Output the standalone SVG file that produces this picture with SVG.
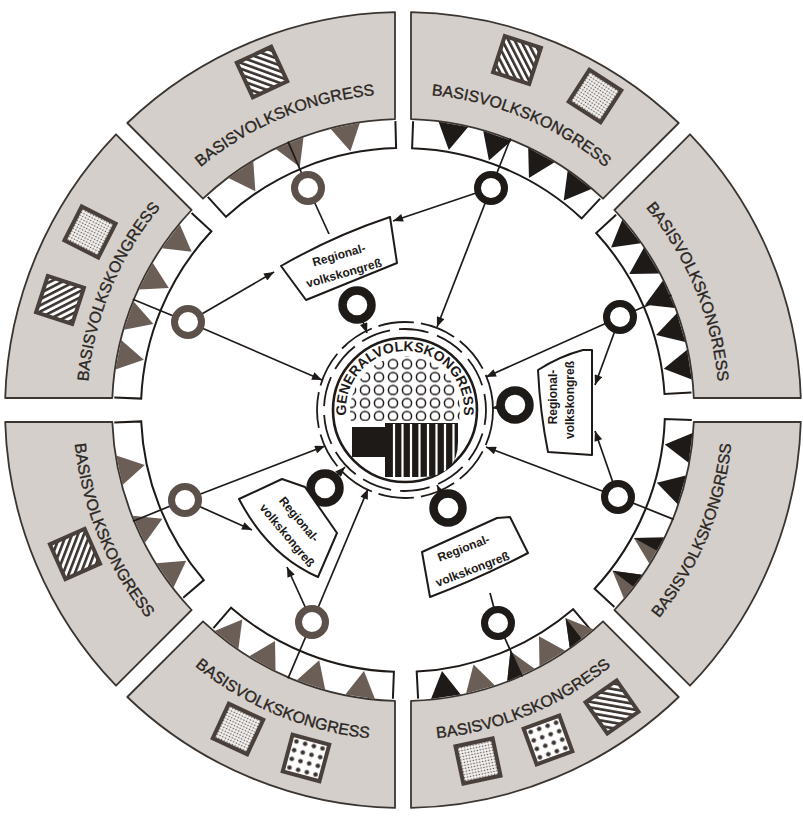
<svg xmlns="http://www.w3.org/2000/svg" width="803" height="819" viewBox="0 0 803 819">
<defs>
<style>
.sec{fill:#d4cfca;stroke:#3b3531;stroke-width:1.8;stroke-linejoin:round}
.bk{font-family:"Liberation Sans",Arial,sans-serif;font-size:16px;fill:#2b2623;stroke:#2b2623;stroke-width:0.35}
.band{fill:none;stroke:#1e1a18;stroke-width:2}
.tb{fill:#6b5e57}
.tk{fill:#1e1a18}
.tile{stroke:#4a403b;stroke-width:4}
.ln{stroke:#1e1a18;stroke-width:1.7;fill:none}
.ar{marker-end:url(#ah)}
.ringb{fill:#fff;stroke:#5b504a;stroke-width:7}
.ringk{fill:#fff;stroke:#1e1a18;stroke-width:7}
.ringi{fill:#fff;stroke:#1e1a18;stroke-width:8.5}
.box{fill:#fff;stroke:#1e1a18;stroke-width:2;stroke-linejoin:round}
.bt{font-family:"Liberation Sans",Arial,sans-serif;font-weight:bold;font-size:12px;fill:#1e1a18;text-anchor:middle}
</style>
<marker id="ah" viewBox="0 0 10 8" refX="10" refY="4" markerWidth="11" markerHeight="8" orient="auto" markerUnits="userSpaceOnUse"><path d="M0,0L10,4L0,8Z" fill="#1e1a18"/></marker>
<polygon id="tri" points="388,120 418,120 403,146"/>
<polygon id="triL" points="388,120 403,120 403,146"/>
<polygon id="triR" points="403,120 418,120 403,146"/>
<pattern id="hatchA" width="5.5" height="5.5" patternUnits="userSpaceOnUse" patternTransform="rotate(-45)"><rect width="5.5" height="5.5" fill="#fff"/><rect width="2.6" height="5.5" fill="#3a3330"/></pattern>
<pattern id="hatchB" width="5.5" height="5.5" patternUnits="userSpaceOnUse" patternTransform="rotate(45)"><rect width="5.5" height="5.5" fill="#fff"/><rect width="2.6" height="5.5" fill="#3a3330"/></pattern>
<pattern id="dots" width="3" height="3" patternUnits="userSpaceOnUse"><rect width="3" height="3" fill="#f4f2f0"/><circle cx="1.5" cy="1.5" r="0.8" fill="#5a514c"/></pattern>
<pattern id="dice" width="9" height="9" patternUnits="userSpaceOnUse"><rect width="9" height="9" fill="#fff"/><circle cx="4.5" cy="4.5" r="2.3" fill="#3a3330"/></pattern>
<pattern id="rings" width="14" height="13" patternUnits="userSpaceOnUse" x="344" y="357.5"><rect width="14" height="13" fill="#fff"/><circle cx="7" cy="6.5" r="4.6" fill="none" stroke="#1e1a18" stroke-width="1.5"/></pattern>
<clipPath id="blockClip"><path d="M385,423 H458 V442 Q458,477 420,477 H385 Z"/></clipPath>
<path id="tTL" d="M181.5,184.6 A316,316 0 0 1 400.2,94.0"/>
<path id="tTR" d="M405.8,94.0 A316,316 0 0 1 624.5,184.6"/>
<path id="tRT" d="M628.4,188.5 A316,316 0 0 1 719.0,407.2"/>
<path id="tLT" d="M87.0,407.2 A316,316 0 0 1 177.6,188.5"/>
<path id="tRB" d="M638.4,641.3 A330,330 0 0 0 733.0,412.9"/>
<path id="tBR" d="M405.9,740.0 A330,330 0 0 0 634.3,645.4"/>
<path id="tBL" d="M171.7,645.4 A330,330 0 0 0 400.1,740.0"/>
<path id="tLB" d="M73.0,412.9 A330,330 0 0 0 167.6,641.3"/>
<path id="gvk" d="M346.9,420.2 A59,59 0 1 1 463.1,420.2"/>
</defs>
<rect width="803" height="819" fill="#fff"/>

<g id="sector-top-left">
<path class="sec" d="M203.0,198.7 L127.3,123.0 A398,398 0 0 1 395,12.1 L395,119.1 A291,291 0 0 0 203.0,198.7 Z"/>
<g transform="translate(262,72) rotate(-25)"><rect class="tile" x="-19" y="-19" width="38" height="38" fill="url(#hatchA)"/></g>
<text class="bk"><textPath href="#tTL" startOffset="50%" text-anchor="middle">BASISVOLKSKONGRESS</textPath></text>
<path class="band" d="M207.8,196.9 L226.0,216.8 A262,262 0 0 1 396.1,148.1 L395.4,121.1"/>
<use href="#tri" class="tb" transform="rotate(-34 403 410)"/>
<use href="#tri" class="tb" transform="rotate(-23 403 410)"/>
<use href="#tri" class="tb" transform="rotate(-11.5 403 410)"/>
</g>

<g id="sector-top-right">
<path class="sec" d="M411,119.1 L411,12.1 A398,398 0 0 1 678.7,123.0 L603.0,198.7 A291,291 0 0 0 411,119.1 Z"/>
<g transform="translate(517,60) rotate(18)"><rect class="tile" x="-19" y="-19" width="38" height="38" fill="url(#hatchA)"/></g>
<g transform="translate(595,96) rotate(33)"><rect class="tile" x="-19" y="-19" width="38" height="38" fill="url(#dots)"/></g>
<text class="bk"><textPath href="#tTR" startOffset="50%" text-anchor="middle">BASISVOLKSKONGRESS</textPath></text>
<path class="band" d="M413.1,121.2 L412.1,148.2 A262,262 0 0 1 581.7,218.4 L600.1,198.6"/>
<use href="#tri" class="tk" transform="rotate(10 403 410)"/>
<use href="#tri" class="tk" transform="rotate(19 403 410)"/>
<use href="#tri" class="tk" transform="rotate(28.5 403 410)"/>
<use href="#tri" class="tk" transform="rotate(37.5 403 410)"/>
</g>

<g id="sector-right-top">
<path class="sec" d="M614.4,210.0 L690.0,134.3 A398,398 0 0 1 800.8,398 L693.8,398 A291,291 0 0 0 614.4,210.0 Z"/>
<text class="bk"><textPath href="#tRT" startOffset="50%" text-anchor="middle">BASISVOLKSKONGRESS</textPath></text>
<path class="band" d="M616.1,214.8 L596.2,233.0 A262,262 0 0 1 664.5,394.0 L691.5,392.4"/>
<use href="#tri" class="tk" transform="rotate(52 403 410)"/>
<use href="#tri" class="tk" transform="rotate(59 403 410)"/>
<use href="#tri" class="tk" transform="rotate(66.5 403 410)"/>
<use href="#tri" class="tk" transform="rotate(73.5 403 410)"/>
<use href="#tri" class="tk" transform="rotate(81 403 410)"/>
</g>

<g id="sector-right-bottom">
<path class="sec" d="M693.8,422 L800.8,422 A398,398 0 0 1 690.0,685.7 L614.4,610.0 A291,291 0 0 0 693.8,422 Z"/>
<text class="bk"><textPath href="#tRB" startOffset="50%" text-anchor="middle">BASISVOLKSKONGRESS</textPath></text>
<path class="band" d="M691.8,420.1 L664.8,419.1 A262,262 0 0 1 594.6,588.7 L614.4,607.1"/>
<use href="#tri" class="tk" transform="rotate(97.5 403 410)"/>
<use href="#tri" class="tk" transform="rotate(106 403 410)"/>
<use href="#tri" class="tb" transform="rotate(119 403 410)"/>
<use href="#triL" class="tk" transform="rotate(119 403 410)"/>
<use href="#tri" class="tb" transform="rotate(127.5 403 410)"/>
<use href="#triL" class="tk" transform="rotate(127.5 403 410)"/>
</g>

<g id="sector-bottom-right">
<path class="sec" d="M603.0,621.4 L678.7,697.0 A398,398 0 0 1 411,807.9 L411,700.9 A291,291 0 0 0 603.0,621.4 Z"/>
<g transform="translate(478,761) rotate(-12)"><rect class="tile" x="-19" y="-19" width="38" height="38" fill="url(#dots)"/></g>
<g transform="translate(548,740) rotate(-20)"><rect class="tile" x="-19" y="-19" width="38" height="38" fill="url(#dice)"/></g>
<g transform="translate(612,707) rotate(-35)"><rect class="tile" x="-19" y="-19" width="38" height="38" fill="url(#hatchA)"/></g>
<text class="bk"><textPath href="#tBR" startOffset="50%" text-anchor="middle">BASISVOLKSKONGRESS</textPath></text>
<path class="band" d="M590.7,629.8 L573.1,609.2 A262,262 0 0 1 416.7,671.6 L418.1,698.6"/>
<use href="#tri" class="tb" transform="rotate(142 403 410)"/>
<use href="#triR" class="tk" transform="rotate(142 403 410)"/>
<use href="#tri" class="tb" transform="rotate(149 403 410)"/>
<use href="#tri" class="tb" transform="rotate(156 403 410)"/>
<use href="#triR" class="tk" transform="rotate(156 403 410)"/>
<use href="#tri" class="tb" transform="rotate(164.5 403 410)"/>
<use href="#tri" class="tk" transform="rotate(171.5 403 410)"/>
</g>

<g id="sector-bottom-left">
<path class="sec" d="M395,700.9 L395,807.9 A398,398 0 0 1 127.3,697.0 L203.0,621.4 A291,291 0 0 0 395,700.9 Z"/>
<g transform="translate(238,729) rotate(25)"><rect class="tile" x="-19" y="-19" width="38" height="38" fill="url(#dots)"/></g>
<g transform="translate(306,758) rotate(15)"><rect class="tile" x="-19" y="-19" width="38" height="38" fill="url(#dice)"/></g>
<text class="bk"><textPath href="#tBL" startOffset="50%" text-anchor="middle">BASISVOLKSKONGRESS</textPath></text>
<path class="band" d="M392.9,698.8 L393.9,671.8 A262,262 0 0 1 231.1,607.7 L213.4,628.1"/>
<use href="#tri" class="tb" transform="rotate(188.5 403 410)"/>
<use href="#tri" class="tb" transform="rotate(198.5 403 410)"/>
<use href="#tri" class="tb" transform="rotate(209 403 410)"/>
<use href="#tri" class="tb" transform="rotate(217.5 403 410)"/>
</g>

<g id="sector-left-bottom">
<path class="sec" d="M191.6,610.0 L116.0,685.7 A398,398 0 0 1 5.2,422 L112.3,422 A291,291 0 0 0 191.6,610.0 Z"/>
<g transform="translate(75,554) rotate(-24)"><rect class="tile" x="-19" y="-19" width="38" height="38" fill="url(#hatchB)"/></g>
<text class="bk"><textPath href="#tLB" startOffset="50%" text-anchor="middle">BASISVOLKSKONGRESS</textPath></text>
<path class="band" d="M183.2,597.7 L203.8,580.1 A262,262 0 0 1 141.2,421.4 L114.3,422.6"/>
<use href="#tri" class="tb" transform="rotate(235.2 403 410)"/>
<use href="#tri" class="tb" transform="rotate(245.7 403 410)"/>
<use href="#tri" class="tb" transform="rotate(258 403 410)"/>
</g>

<g id="sector-left-top">
<path class="sec" d="M112.3,398 L5.2,398 A398,398 0 0 1 116.0,134.3 L191.6,210.0 A291,291 0 0 0 112.3,398 Z"/>
<g transform="translate(90,232) rotate(27)"><rect class="tile" x="-19" y="-19" width="38" height="38" fill="url(#dots)"/></g>
<g transform="translate(60,300) rotate(18)"><rect class="tile" x="-19" y="-19" width="38" height="38" fill="url(#hatchB)"/></g>
<text class="bk"><textPath href="#tLT" startOffset="50%" text-anchor="middle">BASISVOLKSKONGRESS</textPath></text>
<path class="band" d="M114.3,397.4 L141.2,398.6 A262,262 0 0 1 211.4,231.3 L191.6,212.9"/>
<use href="#tri" class="tb" transform="rotate(281 403 410)"/>
<use href="#tri" class="tb" transform="rotate(289 403 410)"/>
<use href="#tri" class="tb" transform="rotate(297.5 403 410)"/>
<use href="#tri" class="tb" transform="rotate(306.8 403 410)"/>
</g>

<g id="connectors" class="ln">
<line x1="308" y1="188" x2="288.0" y2="141.6"/>
<line x1="491" y1="188" x2="510.5" y2="138.5"/>
<line x1="620" y1="317" x2="671.4" y2="295.0"/>
<line x1="618" y1="497" x2="673.7" y2="519.4"/>
<line x1="498" y1="623" x2="522.2" y2="676.6"/>
<line x1="312" y1="622" x2="288.0" y2="678.4"/>
<line x1="185" y1="500" x2="133.0" y2="521.3"/>
<line x1="188" y1="322" x2="132.8" y2="299.2"/>
<line class="ar" x1="491" y1="188" x2="393" y2="221"/>
<line class="ar" x1="491" y1="188" x2="437" y2="327"/>
<line class="ar" x1="188" y1="322" x2="274" y2="272"/>
<line class="ar" x1="188" y1="322" x2="322" y2="380"/>
<line class="ar" x1="620" y1="317" x2="595" y2="385"/>
<line class="ar" x1="620" y1="317" x2="486" y2="377"/>
<line class="ar" x1="618" y1="497" x2="595" y2="431"/>
<line class="ar" x1="618" y1="497" x2="486" y2="447"/>
<line class="ar" x1="185" y1="500" x2="325" y2="446"/>
<line class="ar" x1="185" y1="500" x2="252" y2="530"/>
<line class="ar" x1="312" y1="622" x2="287" y2="567"/>
<line class="ar" x1="312" y1="622" x2="368" y2="489"/>
<line x1="308" y1="188" x2="329" y2="234"/>
<line x1="498" y1="623" x2="490" y2="593"/>
<line class="ar" x1="357" y1="305" x2="367" y2="333"/>
<line class="ar" x1="515" y1="405" x2="492" y2="408"/>
<line class="ar" x1="325" y1="488" x2="345" y2="467"/>
<line class="ar" x1="448" y1="508" x2="437" y2="485"/>
</g>

<g id="generalvolkskongress">
<circle cx="405" cy="410" r="88" fill="none" stroke="#1e1a18" stroke-width="1.8" stroke-dasharray="36 7"/>
<circle cx="405" cy="410" r="81" fill="#fff" stroke="#1e1a18" stroke-width="1.8" stroke-dasharray="30 9" stroke-dashoffset="15"/>
<circle cx="405" cy="410" r="72" fill="#fff" stroke="#1e1a18" stroke-width="2.6"/>
<path d="M350.9,421 A55,55 0 1 1 459.1,421 Z" fill="url(#rings)"/>
<rect x="352" y="427" width="33" height="30" fill="#1e1a18"/>
<path d="M385,423 H458 V442 Q458,477 420,477 H385 Z" fill="#1e1a18"/>
<g clip-path="url(#blockClip)" stroke="#fff" stroke-width="2.2">
<line x1="394" y1="424" x2="394" y2="478"/><line x1="402.5" y1="424" x2="402.5" y2="478"/><line x1="411" y1="424" x2="411" y2="478"/><line x1="419.5" y1="424" x2="419.5" y2="478"/><line x1="428" y1="424" x2="428" y2="478"/><line x1="436.5" y1="424" x2="436.5" y2="478"/><line x1="445" y1="424" x2="445" y2="478"/><line x1="453.5" y1="424" x2="453.5" y2="478"/>
</g>
<text font-family="Liberation Sans, Arial, sans-serif" font-weight="bold" font-size="14" fill="#1e1a18"><textPath href="#gvk" startOffset="50%" text-anchor="middle">GENERALVOLKSKONGRESS</textPath></text>
</g>

<g id="ring-tl"><circle class="ringb" cx="308" cy="188" r="13.5"/></g>
<g id="ring-tr"><circle class="ringk" cx="491" cy="188" r="13.5"/></g>
<g id="ring-rt"><circle class="ringk" cx="620" cy="317" r="13.5"/></g>
<g id="ring-rb"><circle class="ringk" cx="618" cy="497" r="13.5"/></g>
<g id="ring-br"><circle class="ringk" cx="498" cy="623" r="13.5"/></g>
<g id="ring-bl"><circle class="ringb" cx="312" cy="622" r="13.5"/></g>
<g id="ring-lb"><circle class="ringb" cx="185" cy="500" r="13.5"/></g>
<g id="ring-lt"><circle class="ringb" cx="188" cy="322" r="13.5"/></g>

<g id="iring-tl"><circle class="ringi" cx="357" cy="305" r="14.5"/></g>
<g id="iring-r"><circle class="ringi" cx="515" cy="405" r="14.5"/></g>
<g id="iring-lb"><circle class="ringi" cx="325" cy="488" r="14.5"/></g>
<g id="iring-br"><circle class="ringi" cx="448" cy="508" r="14.5"/></g>

<g id="regional-tl">
<path class="box" d="M281,266 Q333,236 390,217 L397,263 L306,300 Z"/>
<text class="bt" x="340" y="259" transform="rotate(-16 340 259)">Regional-</text>
<text class="bt" x="345" y="277" transform="rotate(-16 345 277)">volkskongreß</text>
</g>
<g id="regional-r">
<path class="box" d="M538,370 Q560,356 583,350 L592,350 L592,455 L548,452 Q540,412 538,370 Z"/>
<text class="bt" x="557" y="397" transform="rotate(-90 557 397)">Regional-</text>
<text class="bt" x="574" y="400" transform="rotate(-90 574 400)">volkskongreß</text>
</g>
<g id="regional-lb">
<path class="box" d="M239,499 L282,479 L305,487 L337,533 L318,577 Q268,555 239,499 Z"/>
<text class="bt" x="296" y="522" transform="rotate(50 296 522)">Regional-</text>
<text class="bt" x="284" y="538" transform="rotate(50 284 538)">volkskongreß</text>
</g>
<g id="regional-br">
<path class="box" d="M422,552 L497,518 L510,517 L528,553 Q480,578 430,597 Z"/>
<text class="bt" x="465" y="552" transform="rotate(-21 465 552)">Regional-</text>
<text class="bt" x="474" y="573" transform="rotate(-21 474 573)">volkskongreß</text>
</g>
</svg>
